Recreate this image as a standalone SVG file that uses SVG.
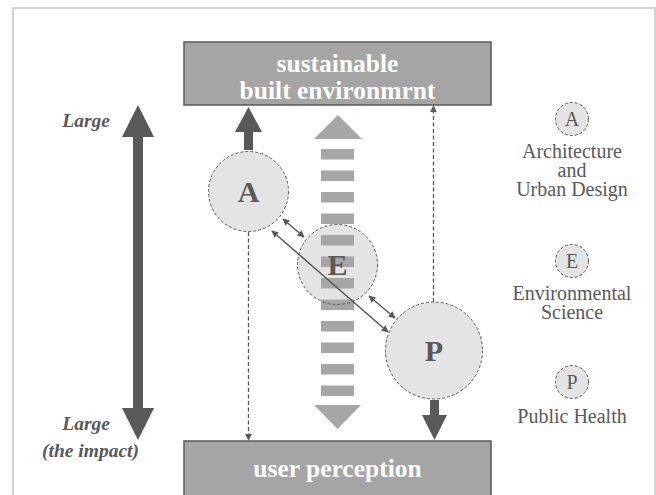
<svg xmlns="http://www.w3.org/2000/svg" width="656" height="495" viewBox="0 0 656 495">
  <style>
    .box { fill: #a5a5a5; stroke: #5a5a5a; stroke-width: 1.5; }
    .boxtxt { font-weight: bold; font-size: 25.5px; fill: #ffffff; text-anchor: middle; }
    .node { fill: #e4e4e4; stroke: #5a5a5a; stroke-width: 1; stroke-dasharray: 3 2; }
    .ring { fill: none; stroke: #5a5a5a; stroke-width: 1; stroke-dasharray: 3 2; }
    .big { font-weight: bold; font-size: 30px; fill: #595959; text-anchor: middle; }
    .dark { fill: #595959; }
    .light { fill: #a6a6a6; }
    .dash { fill: none; stroke: #595959; stroke-width: 1.3; stroke-dasharray: 4 2.5; }
    .link { fill: none; stroke: #595959; stroke-width: 1.5; }
    .side { font-style: italic; font-weight: bold; font-size: 19.5px; fill: #595959; text-anchor: end; }
    .leg { font-size: 20px; fill: #595959; text-anchor: middle; }
    .frame { fill: none; stroke: #c4c4c4; stroke-width: 1.5; }
  </style>
  <defs>
    <marker id="tip" viewBox="0 0 10 10" refX="9" refY="5" markerWidth="7" markerHeight="7" markerUnits="userSpaceOnUse" orient="auto-start-reverse">
      <path d="M0,0 L10,5 L0,10 Z" fill="#595959"/>
    </marker>
  </defs>

  <!-- outer frame -->
  <polyline class="frame" points="13,495 13,8 655,8 655,495"/>

  <g font-family="'Liberation Serif', 'DejaVu Serif', serif">
  <!-- top and bottom boxes -->
  <g id="built-environment">
    <rect class="box" x="184" y="42" width="307" height="63"/>
    <text class="boxtxt" x="337.5" y="72">sustainable</text>
    <text class="boxtxt" x="337.5" y="99">built environmrnt</text>
  </g>
  <g id="user-perception">
    <rect class="box" x="184" y="441" width="307" height="60"/>
    <text class="boxtxt" x="337.5" y="477">user perception</text>
  </g>

  <!-- impact scale -->
  <g id="impact-scale">
    <polygon class="dark" points="138,105 154,137 143,137 143,408 154,408 138,440 122,408 133,408 133,137 122,137"/>
    <text class="side" x="110" y="127">Large</text>
    <text class="side" x="110" y="430">Large</text>
    <text class="side" x="139" y="457">(the impact)</text>
  </g>

  <!-- discipline nodes -->
  <g id="node-A">
    <circle class="node" cx="248.5" cy="191.5" r="40"/>
    <text class="big" x="248.5" y="202">A</text>
  </g>
  <g id="node-P">
    <circle class="node" cx="434" cy="350.5" r="48.5"/>
    <text class="big" x="434" y="361">P</text>
  </g>
  <g id="node-E">
    <circle cx="337.5" cy="264.5" r="40" fill="#e4e4e4"/>
  </g>

  <!-- striped two-way arrow -->
  <g id="striped-arrow">
    <polygon class="light" points="314,139 362,139 338,115"/>
    <rect class="light" x="321" y="149" width="33" height="10.5"/>
    <rect class="light" x="321" y="170.5" width="33" height="10.5"/>
    <rect class="light" x="321" y="192" width="33" height="10.5"/>
    <rect class="light" x="321" y="213.5" width="33" height="10.5"/>
    <rect class="light" x="321" y="235" width="33" height="10.5"/>
    <rect class="light" x="321" y="256.5" width="33" height="10.5"/>
    <rect class="light" x="321" y="278" width="33" height="10.5"/>
    <rect class="light" x="321" y="299.5" width="33" height="10.5"/>
    <rect class="light" x="321" y="321" width="33" height="10.5"/>
    <rect class="light" x="321" y="342.5" width="33" height="10.5"/>
    <rect class="light" x="321" y="364" width="33" height="10.5"/>
    <rect class="light" x="321" y="385.5" width="33" height="10.5"/>
    <polygon class="light" points="314,405 361,405 337.5,429"/>
  </g>

  <g id="node-E-label">
    <circle class="ring" cx="337.5" cy="264.5" r="40"/>
    <text class="big" x="337.5" y="275">E</text>
  </g>

  <!-- connectors -->
  <g id="connectors">
    <polygon class="dark" points="244,150 244,132 235,132 248.5,107 262,132 253,132 253,150"/>
    <polygon class="dark" points="430,400 439,400 439,415 447,415 434.5,440 422,415 430,415"/>
    <line class="dash" x1="248.5" y1="232" x2="248.5" y2="440" marker-end="url(#tip)"/>
    <line class="dash" x1="433.5" y1="302" x2="433.5" y2="106" marker-end="url(#tip)"/>
    <line class="link" x1="272" y1="231" x2="388" y2="332" marker-start="url(#tip)" marker-end="url(#tip)"/>
    <line class="link" x1="283" y1="219" x2="304" y2="237" marker-start="url(#tip)" marker-end="url(#tip)"/>
    <line class="link" x1="369" y1="296" x2="395" y2="318" marker-start="url(#tip)" marker-end="url(#tip)"/>
  </g>

  <!-- legend -->
  <g id="legend-A">
    <circle class="node" cx="572" cy="119" r="16.5"/>
    <text class="leg" x="572" y="126">A</text>
    <text class="leg" x="572" y="158">Architecture</text>
    <text class="leg" x="572" y="177">and</text>
    <text class="leg" x="572" y="196">Urban Design</text>
  </g>
  <g id="legend-E">
    <circle class="node" cx="572" cy="261" r="16.5"/>
    <text class="leg" x="572" y="268">E</text>
    <text class="leg" x="572" y="300">Environmental</text>
    <text class="leg" x="572" y="319">Science</text>
  </g>
  <g id="legend-P">
    <circle class="node" cx="572" cy="382" r="16.5"/>
    <text class="leg" x="572" y="389">P</text>
    <text class="leg" x="572" y="423">Public Health</text>
  </g>
  </g>
</svg>
